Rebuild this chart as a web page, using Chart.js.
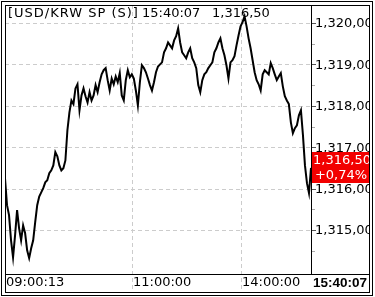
<!DOCTYPE html>
<html>
<head>
<meta charset="utf-8">
<script src="https://cdn.jsdelivr.net/npm/chart.js@4/dist/chart.umd.min.js"></script>
<style>
html,body{margin:0;padding:0;background:#fff;}
canvas{display:block;}
</style>
</head>
<body>
<canvas id="c" width="375" height="297"></canvas>
<script>
// ---- data ----
const titleText = '[USD/KRW SP (S)]';
const lastTime = '15:40:07';
const lastPriceText = '1,316,50';
const changeText = '+0,74%';
const prices = [
1316.25,1315.60,1315.36,1314.75,1314.34,1314.87,1315.48,1315.04,1314.75,1315.11,
1314.92,1314.51,1314.32,1314.56,1314.75,1315.19,1315.60,1315.81,1315.91,1316.01,
1316.15,1316.20,1316.37,1316.44,1316.56,1316.88,1316.78,1316.56,1316.44,1316.49,
1316.68,1317.41,1317.84,1318.13,1318.04,1318.42,1318.52,1317.89,1318.25,1318.42,
1318.23,1318.08,1318.33,1318.13,1318.25,1318.50,1318.33,1318.57,1318.76,1318.86,
1318.91,1318.62,1318.37,1318.66,1318.52,1318.71,1318.57,1318.79,1318.25,1318.13,
1318.62,1318.86,1318.69,1318.76,1318.66,1318.37,1318.01,1318.57,1318.98,1318.91,
1318.81,1318.66,1318.50,1318.37,1318.57,1318.81,1318.95,1319.00,1319.05,1319.29,
1319.39,1319.53,1319.46,1319.39,1319.58,1319.68,1319.87,1319.53,1319.29,1319.22,
1319.15,1319.29,1319.39,1319.15,1319.05,1318.91,1318.50,1318.33,1318.62,1318.76,
1318.81,1318.91,1318.98,1319.05,1319.29,1319.39,1319.53,1319.63,1319.39,1319.22,
1318.98,1318.66,1319.05,1319.10,1319.20,1319.46,1319.70,1319.92,1320.02,1320.16,
1319.92,1319.63,1319.39,1319.10,1318.81,1318.62,1318.52,1318.37,1318.76,1318.86,
1318.81,1318.76,1319.03,1318.91,1318.76,1318.62,1318.71,1318.79,1318.47,1318.23,
1318.13,1318.04,1317.60,1317.34,1317.46,1317.53,1317.77,1317.89,1317.29,1316.56,
1316.13,1315.89,1316.50
];
const timeTickIndex = [0, 63, 117];
const timeTickLabels = ['09:00:13', '11:00:00', '14:00:00'];
const priceTicks = [1315, 1316, 1317, 1318, 1319, 1320];
const priceTickLabels = ['1,315,00', '1,316,00', '1,317,00', '1,318,00', '1,319,00', '1,320,00'];
const minorTicks = [1314.5, 1315.5, 1316.5, 1317.5, 1318.5, 1319.5];

const FONT = '13px "DejaVu Sans", sans-serif';

const deco = {
  id: 'deco',
  beforeDraw(chart) {
    const ctx = chart.ctx;
    ctx.save();
    ctx.fillStyle = '#fff';
    ctx.fillRect(0, 0, chart.width, chart.height);
    ctx.restore();
  },
  beforeDatasetsDraw(chart) {
    const ctx = chart.ctx, a = chart.chartArea;
    const xs = chart.scales.x, ys = chart.scales.y;
    ctx.save();
    ctx.strokeStyle = '#cccccc';
    ctx.lineWidth = 1;
    ctx.setLineDash([4, 3]);
    priceTicks.forEach(v => {
      const y = Math.round(ys.getPixelForValue(v)) + 0.5;
      ctx.beginPath(); ctx.moveTo(a.left, y); ctx.lineTo(a.right, y); ctx.stroke();
    });
    timeTickIndex.slice(1).forEach(i => {
      const x = Math.round(xs.getPixelForValue(i)) + 0.5;
      ctx.beginPath(); ctx.moveTo(x, a.top); ctx.lineTo(x, 292); ctx.stroke();
    });
    ctx.restore();
  },
  afterDatasetsDraw(chart) {
    const ctx = chart.ctx, a = chart.chartArea;
    const xs = chart.scales.x, ys = chart.scales.y;
    ctx.save();
    ctx.setLineDash([]);
    // title
    ctx.fillStyle = '#000';
    ctx.font = FONT;
    ctx.textBaseline = 'middle';
    ctx.textAlign = 'left';
    ctx.letterSpacing = '1px';
    ctx.fillText(titleText, 8, 14);
    ctx.letterSpacing = '0px';
    ctx.fillText(lastTime, 142, 14);
    ctx.fillText(lastPriceText, 212, 14);

    // right axis ticks
    ctx.strokeStyle = '#555';
    ctx.lineWidth = 1;
    priceTicks.forEach(v => {
      const y = Math.round(ys.getPixelForValue(v)) + 0.5;
      ctx.beginPath(); ctx.moveTo(a.right, y); ctx.lineTo(a.right + 5, y); ctx.stroke();
    });
    ctx.strokeStyle = '#aaa';
    minorTicks.forEach(v => {
      const y = Math.round(ys.getPixelForValue(v)) + 0.5;
      if (y < a.top || y > a.bottom) return;
      ctx.beginPath(); ctx.moveTo(a.right, y); ctx.lineTo(a.right + 4, y); ctx.stroke();
    });
    // right axis labels (clipped at frame)
    ctx.save();
    ctx.beginPath(); ctx.rect(a.right, a.top, 369 - a.right, a.bottom - a.top); ctx.clip();
    ctx.fillStyle = '#000';
    priceTicks.forEach((v, k) => {
      const y = ys.getPixelForValue(v);
      ctx.fillText(priceTickLabels[k], a.right + 4, y + 1);
    });
    // red last-price box
    const ly = ys.getPixelForValue(prices[prices.length - 1]);
    ctx.fillStyle = '#f20000';
    ctx.fillRect(a.right + 1, Math.round(ly) - 16, 60, 31);
    ctx.fillStyle = '#fff';
    ctx.textAlign = 'center';
    ctx.fillText(lastPriceText, a.right + 31, Math.round(ly) - 7);
    ctx.fillText(changeText, a.right + 30, Math.round(ly) + 8);
    ctx.restore();

    // time labels
    ctx.fillStyle = '#000';
    ctx.textAlign = 'left';
    timeTickIndex.forEach((i, k) => {
      const x = Math.round(xs.getPixelForValue(i));
      ctx.fillText(timeTickLabels[k], k === 0 ? 6 : x + 1, 283);
    });
    ctx.font = 'bold 13.5px "Liberation Sans", Arial, sans-serif';
    ctx.fillText(lastTime, 313, 283);

    // frames
    ctx.strokeStyle = '#000';
    ctx.lineWidth = 1;
    ctx.strokeRect(1.5, 1.5, 371, 294);
    ctx.strokeRect(5.5, 5.5, 364, 287);
    ctx.beginPath();
    ctx.moveTo(a.right + 0.5, 5); ctx.lineTo(a.right + 0.5, a.bottom);
    ctx.moveTo(5, a.bottom + 0.5); ctx.lineTo(370, a.bottom + 0.5);
    ctx.stroke();
    ctx.restore();
  }
};

new Chart(document.getElementById('c'), {
  type: 'line',
  data: {
    labels: prices.map((_, i) => i),
    datasets: [{
      data: prices.map((v, i) => ({x: i, y: v})),
      borderColor: '#000',
      borderWidth: 2,
      pointRadius: 0,
      tension: 0,
      fill: false
    }]
  },
  options: {
    responsive: false,
    animation: false,
    events: [],
    layout: { padding: { left: 5, top: 5, right: 375 - 311, bottom: 297 - 274 } },
    plugins: { legend: { display: false }, tooltip: { enabled: false } },
    scales: {
      x: { type: 'linear', display: false, min: 0, max: prices.length - 1 },
      y: { display: false, min: 1313.937, max: 1320.435 }
    }
  },
  plugins: [deco]
});
</script>
</body>
</html>
